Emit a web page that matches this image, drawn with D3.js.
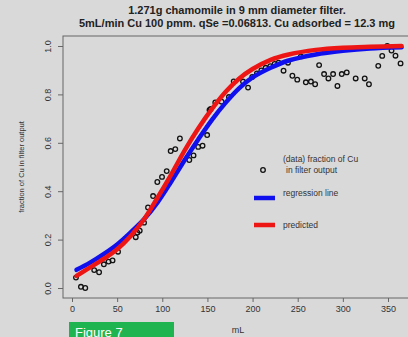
<!DOCTYPE html>
<html>
<head>
<meta charset="utf-8">
<script src="https://cdn.jsdelivr.net/npm/d3@7"></script>
<style>
  body { margin: 0; background: #d9d9d9; }
  svg { display: block; font-family: "Liberation Sans", Arial, sans-serif; }
</style>
</head>
<body>
<script>
// breakthrough curve, Cu through chamomile filter

var titleLines = ["1.271g chamomile in 9 mm diameter filter.",
  "5mL/min Cu 100 pmm. qSe =0.06813. Cu adsorbed = 12.3 mg"];

var xTicks = [0, 50, 100, 150, 200, 250, 300, 350];
var yTicks = [0, 0.2, 0.4, 0.6, 0.8, 1.0];

// observed fraction (mL, fraction)
var obsMl = [4.4, 9.9, 14.7, 24.6, 30, 35.3, 40.5, 44.9, 51, 70.6, 72.5, 75, 79.8,
  84.2, 89.8, 94.5, 99.7, 104.9, 109.3, 114.4, 119.5, 129.9, 134.6, 139.8, 144.6,
  149.7, 152.3, 153.6, 158.7, 165.7, 173.8, 179.1, 189.4, 195, 199.6, 204.8, 209.7,
  214.5, 219.6, 224.4, 228.8, 234.3, 239.2, 244.1, 249.5, 253.5, 259, 264.6, 269.3,
  273.7, 279.2, 284, 289.2, 294, 298.8, 304.3, 314.2, 324.2, 328.9, 339.2, 343.6,
  349.2, 353.9, 358.3, 363.9];
var obsFrac = [0.043, 0.005, 0.0, 0.074, 0.065, 0.098, 0.109, 0.114, 0.15, 0.21, 0.229, 0.237, 0.27,
  0.333, 0.38, 0.438, 0.459, 0.483, 0.566, 0.574, 0.618, 0.529, 0.548, 0.583, 0.588,
  0.632, 0.736, 0.74, 0.767, 0.77, 0.789, 0.854, 0.853, 0.828, 0.872, 0.887, 0.899,
  0.91, 0.917, 0.926, 0.931, 0.898, 0.931, 0.877, 0.861, 0.957, 0.85, 0.853, 0.842,
  0.921, 0.884, 0.866, 0.884, 0.835, 0.884, 0.891, 0.866, 0.866, 0.842, 0.918, 0.959,
  1.0, 0.981, 0.96, 0.928];

// curves
var curveMl = [5, 20, 35, 50, 65, 80, 95, 110, 125, 140, 155, 170, 185, 200, 220, 240, 270, 300, 330, 365];
var regression = [0.075, 0.105, 0.14, 0.18, 0.23, 0.285, 0.355, 0.44, 0.53, 0.615, 0.695, 0.765, 0.825, 0.87, 0.91, 0.94, 0.965, 0.98, 0.99, 0.995];
var predicted = [0.05, 0.085, 0.12, 0.16, 0.215, 0.285, 0.375, 0.47, 0.57, 0.66, 0.74, 0.81, 0.865, 0.905, 0.943, 0.965, 0.984, 0.993, 0.997, 1.0];

var width = 408, height = 337;
var ink = "#333";
var boxCol = "#666";

var svg = d3.select("body").append("svg")
  .attr("width", width)
  .attr("height", height);

var x = d3.scaleLinear().domain([0, 350]).range([72, 388]);
var y = d3.scaleLinear().domain([0, 1]).range([288, 46]);

// title
svg.selectAll(".title")
  .data(titleLines)
  .enter().append("text")
  .attr("class", "title")
  .attr("x", 237)
  .attr("y", function(d, i) { return 14 + i * 13; })
  .attr("text-anchor", "middle")
  .attr("fill", "#222")
  .style("font-size", "11px")
  .style("font-weight", "bold")
  .text(function(d) { return d; });

// axes
var xAxis = svg.append("g")
  .attr("transform", "translate(0,298)")
  .call(d3.axisBottom(x).tickValues(xTicks).tickSize(4).tickPadding(4));
xAxis.select(".domain").remove();
xAxis.selectAll("line").attr("stroke", boxCol);
xAxis.selectAll("text").attr("fill", ink).style("font-size", "9px")
  .style("font-family", "Liberation Sans, Arial, sans-serif");

var yAxis = svg.append("g")
  .attr("transform", "translate(63,0)")
  .call(d3.axisLeft(y).tickValues(yTicks).tickSize(5).tickFormat(d3.format(".1f")));
yAxis.select(".domain").remove();
yAxis.selectAll("line").attr("stroke", boxCol);
yAxis.selectAll("text")
  .attr("fill", ink)
  .attr("x", null).attr("dy", null)
  .attr("text-anchor", "middle")
  .attr("transform", "translate(-15,0) rotate(-90)")
  .attr("y", 3)
  .style("font-size", "9px")
  .style("font-family", "Liberation Sans, Arial, sans-serif");

// plot box
svg.append("rect")
  .attr("x", 63).attr("y", 36)
  .attr("width", 400).attr("height", 262)
  .attr("fill", "none")
  .attr("stroke", boxCol)
  .attr("stroke-width", 1);

// axis titles
svg.append("text")
  .attr("transform", "translate(24,167) rotate(-90)")
  .attr("text-anchor", "middle")
  .attr("fill", ink)
  .style("font-size", "7.5px")
  .text("fraction of Cu in filter output");

svg.append("text")
  .attr("x", 238).attr("y", 333)
  .attr("text-anchor", "middle")
  .attr("fill", ink)
  .style("font-size", "9px")
  .text("mL");

// points
svg.append("g").selectAll("circle")
  .data(obsMl)
  .enter().append("circle")
  .attr("cx", function(d) { return x(d); })
  .attr("cy", function(d, i) { return y(obsFrac[i]); })
  .attr("r", 2.3)
  .attr("fill", "none")
  .attr("stroke", "#111")
  .attr("stroke-width", 1.3);

// curves
var line = d3.line()
  .x(function(d) { return x(d[0]); })
  .y(function(d) { return y(d[1]); })
  .curve(d3.curveCatmullRom);

var curves = [
  { vals: regression, col: "#1010ee" },
  { vals: predicted, col: "#ee1515" }
];
curves.forEach(function(c) {
  svg.append("path")
    .datum(curveMl.map(function(m, i) { return [m, c.vals[i]]; }))
    .attr("fill", "none")
    .attr("stroke", c.col)
    .attr("stroke-width", 4.5)
    .attr("stroke-linecap", "round")
    .attr("d", line);
});

// legend
var leg = svg.append("g").style("font-size", "8.5px").attr("fill", ink);
leg.append("circle")
  .attr("cx", 263).attr("cy", 170).attr("r", 2.3)
  .attr("fill", "none").attr("stroke", "#111").attr("stroke-width", 1.3);
leg.append("text").attr("x", 283).attr("y", 162).attr("fill", ink).text("(data) fraction of Cu");
leg.append("text").attr("x", 286).attr("y", 173).attr("fill", ink).text("in filter output");
leg.append("line").attr("x1", 254).attr("x2", 275).attr("y1", 198).attr("y2", 198)
  .attr("stroke", "#1010ee").attr("stroke-width", 4.5);
leg.append("text").attr("x", 283).attr("y", 196).attr("fill", ink).text("regression line");
leg.append("line").attr("x1", 254).attr("x2", 275).attr("y1", 225).attr("y2", 225)
  .attr("stroke", "#ee1515").attr("stroke-width", 4.5);
leg.append("text").attr("x", 283).attr("y", 228).attr("fill", ink).text("predicted");

// figure label at the bottom edge
svg.append("rect")
  .attr("x", 69).attr("y", 322)
  .attr("width", 105).attr("height", 20)
  .attr("fill", "#1fb450");
svg.append("text")
  .attr("x", 75).attr("y", 336.5)
  .attr("fill", "#fff")
  .style("font-size", "13px")
  .text("Figure 7");
</script>
</body>
</html>
